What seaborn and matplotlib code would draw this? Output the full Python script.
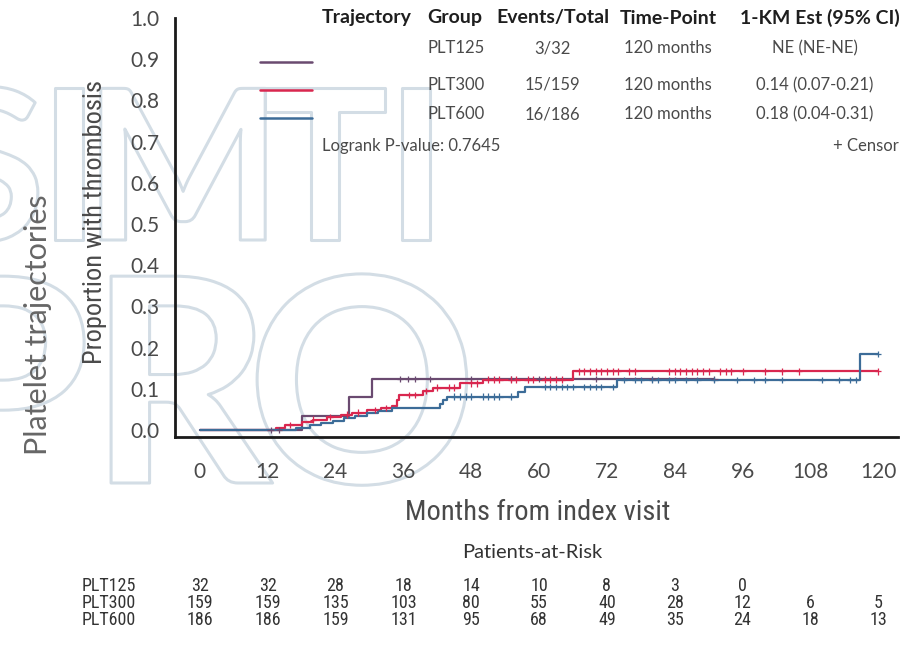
import numpy as np
import pandas as pd
import matplotlib
matplotlib.use("Agg")
import matplotlib.pyplot as plt
import matplotlib.patheffects as pe
from matplotlib.lines import Line2D
import seaborn as sns

# ---------------- data ----------------
groups = ["PLT125", "PLT300", "PLT600"]
colors = {"PLT125": "#6a4a70", "PLT300": "#d9274f", "PLT600": "#3c6c98"}

plt125_t = [0, 18.0, 26.3, 30.5, 91.0]
plt125_y = [0, 0.035, 0.080, 0.124, 0.124]
plt300_t = [0, 13.5, 15.0, 18.0, 20.0, 22.5, 25.0, 27.0, 29.5, 32.0, 34.0, 34.8, 35.3,
            39.5, 41.3, 46.0, 50.0, 66.0, 120.0]
plt300_y = [0, 0.006, 0.012, 0.019, 0.025, 0.032, 0.037, 0.042, 0.048, 0.053, 0.058, 0.072, 0.085,
            0.095, 0.103, 0.113, 0.122, 0.142, 0.142]
plt600_t = [0, 17.0, 19.5, 21.5, 23.5, 25.5, 27.5, 29.5, 31.5, 34.0, 42.5, 43.0, 43.7,
            56.3, 57.5, 73.8, 116.8, 120.0]
plt600_y = [0, 0.005, 0.011, 0.017, 0.023, 0.029, 0.035, 0.041, 0.047, 0.053, 0.062, 0.072, 0.081,
            0.093, 0.104, 0.121, 0.185, 0.185]

cens125 = [12.5, 14, 35.4, 36.8, 38, 40.7, 48, 55, 60, 70, 80, 91]
cens300 = [16, 20, 23, 26, 28, 31, 33, 37, 38, 40, 42, 44, 45, 48, 49, 51, 52, 53, 55, 56, 58,
           59, 61, 62, 63, 64, 67, 68, 69, 70, 71, 72, 73, 74, 76, 77, 83, 84, 85, 86, 87, 88,
           89, 90, 92, 93, 94, 96, 100, 103, 106, 120]
cens600 = [45, 46, 47, 48, 50, 51, 52, 53, 55, 61, 62, 63, 64, 65, 66, 68, 69, 70, 71, 73, 75,
           77, 78, 80, 81, 83, 84, 86, 88, 91, 95, 98, 100, 103, 110, 113, 115, 116, 120]

tbl_events = ["3/32", "15/159", "16/186"]
tbl_timepoint = ["120 months", "120 months", "120 months"]
tbl_km = ["NE (NE-NE)", "0.14 (0.07-0.21)", "0.18 (0.04-0.31)"]
logrank_text = "Logrank P-value: 0.7645"

risk_times = [0, 12, 24, 36, 48, 60, 72, 84, 96, 108, 120]
risk125 = [32, 32, 28, 18, 14, 10, 8, 3, 0]
risk300 = [159, 159, 135, 103, 80, 55, 40, 28, 12, 6, 5]
risk600 = [186, 186, 159, 131, 95, 68, 49, 35, 24, 18, 13]

x_ticks = [0, 12, 24, 36, 48, 60, 72, 84, 96, 108, 120]
y_ticks = [0.0, 0.1, 0.2, 0.3, 0.4, 0.5, 0.6, 0.7, 0.8, 0.9, 1.0]

# ---------------- frames ----------------
curve_rows = []
cens_rows = []
for g, tt, yy, cc in [("PLT125", plt125_t, plt125_y, cens125),
                      ("PLT300", plt300_t, plt300_y, cens300),
                      ("PLT600", plt600_t, plt600_y, cens600)]:
    for t, v in zip(tt, yy):
        curve_rows.append({"group": g, "time": t, "value": v})
    tt_a = np.array(tt)
    yy_a = np.array(yy)
    for c in cc:
        idx = np.searchsorted(tt_a, c, side="right") - 1
        cens_rows.append({"group": g, "time": c, "value": yy_a[idx]})
curves = pd.DataFrame(curve_rows)
cens = pd.DataFrame(cens_rows)

# ---------------- style ----------------
sns.set_style("white")
plt.rcParams["font.family"] = ["Lato", "DejaVu Sans"]
narrow = ["Roboto Condensed", "Liberation Sans Narrow", "DejaVu Sans"]
TXT = "#4a4a4a"

W, H = 922, 646
fig = plt.figure(figsize=(W / 100, H / 100), dpi=100)


def fx(x):
    return x / W


def fy(y):
    return 1 - y / H


# watermark (outlined letters)
wm_color = "#d3dde5"
wm_fx = dict(color=(1, 1, 1, 0), fontfamily="Lato", fontweight="bold", ha="center",
             va="baseline", zorder=-5,
             path_effects=[pe.withStroke(linewidth=2.2, foreground=wm_color)])
for ch, cx in zip("SIMTI", [-12, 69, 183, 325, 416]):
    fig.text(fx(cx), fy(240), ch, fontsize=151, **wm_fx)
for ch, cx in zip("PRO", [2, 180, 362]):
    fig.text(fx(cx), fy(483), ch, fontsize=206, **wm_fx)

ax = fig.add_axes([fx(175), fy(437), (898 - 175) / W, (437 - 18) / H])
ax.set_facecolor("none")

sns.lineplot(data=curves, x="time", y="value", hue="group", palette=colors,
             estimator=None, drawstyle="steps-post", linewidth=1.6, legend=False, ax=ax)
sns.scatterplot(data=cens, x="time", y="value", hue="group", palette=colors,
                marker="+", s=22, linewidth=0.9, legend=False, ax=ax, zorder=3)

ax.set_xlim(-4.4, 123.5)
ax.set_ylim(-0.017, 1.0)
ax.set_xticks(x_ticks)
ax.set_xticklabels([str(v) for v in x_ticks])
ax.set_yticks(y_ticks)
ax.set_yticklabels([f"{v:.1f}" for v in y_ticks])
ax.set_xlabel("")
ax.set_ylabel("")
for s in ["top", "right"]:
    ax.spines[s].set_visible(False)
for s in ["left", "bottom"]:
    ax.spines[s].set_linewidth(2.0)
    ax.spines[s].set_color("#1a1a1a")
ax.tick_params(axis="both", which="major", direction="out", length=6, width=2,
               color="#1a1a1a", labelcolor=TXT, labelsize=15)
ax.tick_params(axis="x", pad=12)
ax.tick_params(axis="y", pad=5)

# axis labels
fig.text(fx(538), fy(512), "Months from index visit", ha="center", va="center",
         fontsize=20.5, color=TXT, family=narrow, fontstretch="condensed")
fig.text(fx(95), fy(222), "Proportion with thrombosis", ha="center", va="center",
         rotation=90, fontsize=19, color=TXT, family=narrow, fontstretch="condensed")
fig.text(fx(38), fy(325), "Platelet trajectories", ha="center", va="center",
         rotation=90, fontsize=22, color="#666666")

# legend / summary table
hdr_y = 18
hdr = dict(va="center", fontsize=14, fontweight="bold", color="#1e1e1e")
fig.text(fx(322), fy(hdr_y), "Trajectory", ha="left", **hdr)
fig.text(fx(427), fy(hdr_y), "Group", ha="left", **hdr)
fig.text(fx(553), fy(hdr_y), "Events/Total", ha="center", **hdr)
fig.text(fx(668), fy(hdr_y), "Time-Point", ha="center", **hdr)
fig.text(fx(900), fy(hdr_y), "1-KM Est (95% CI)", ha="right", **hdr)

row_y = [48, 85, 114]
leg_y = [62, 90, 118]
for g, ry, ly, ev, tp, km in zip(groups, row_y, leg_y, tbl_events, tbl_timepoint, tbl_km):
    fig.add_artist(Line2D([fx(260), fx(312)], [fy(ly), fy(ly)], color=colors[g], lw=1.8))
    fig.text(fx(427), fy(ry), g, ha="left", va="center", fontsize=12, color=TXT)
    fig.text(fx(552), fy(ry), ev, ha="center", va="center", fontsize=12, color=TXT)
    fig.text(fx(668), fy(ry), tp, ha="center", va="center", fontsize=12, color=TXT)
    fig.text(fx(815), fy(ry), km, ha="center", va="center", fontsize=12, color=TXT)
fig.text(fx(322), fy(146), logrank_text, ha="left", va="center", fontsize=12, color=TXT)
fig.text(fx(899), fy(146), "+ Censor", ha="right", va="center", fontsize=12, color=TXT)

# patients-at-risk table
fig.text(fx(532), fy(552), "Patients-at-Risk", ha="center", va="center", fontsize=14.5,
         color="#333333")
trans = matplotlib.transforms.blended_transform_factory(ax.transData, fig.transFigure)
for g, ry, vals in zip(groups, [586, 603, 620], [risk125, risk300, risk600]):
    fig.text(fx(82), fy(ry), g, ha="left", va="center", fontsize=13, color="#333333",
             family=narrow, fontstretch="condensed")
    for t, v in zip(risk_times, vals):
        ax.text(t, fy(ry), str(v), transform=trans, ha="center", va="center",
                fontsize=13, color="#333333", clip_on=False,
                family=narrow, fontstretch="condensed")

fig.savefig("out.png", dpi=100)
